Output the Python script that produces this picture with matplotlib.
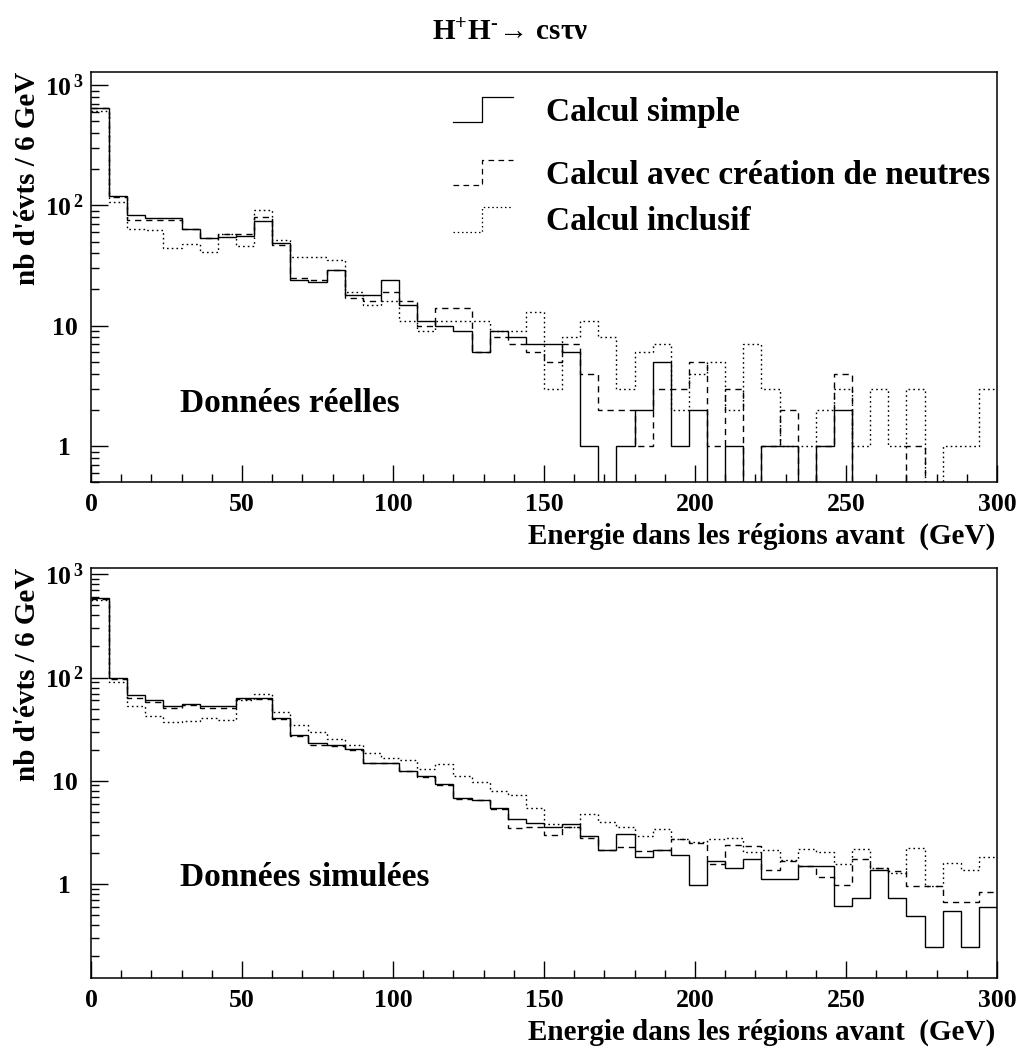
import numpy as np
import matplotlib
matplotlib.use("Agg")
import matplotlib.pyplot as plt
from matplotlib.ticker import MultipleLocator, LogLocator, NullFormatter, FixedLocator, FixedFormatter

plt.rcParams['font.family'] = ['Liberation Serif', 'DejaVu Serif']
plt.rcParams['font.weight'] = 'bold'
plt.rcParams['mathtext.fontset'] = 'custom'
plt.rcParams['mathtext.rm'] = 'Liberation Serif:bold'
plt.rcParams['mathtext.bf'] = 'Liberation Serif:bold'
plt.rcParams['mathtext.it'] = 'Liberation Serif:bold:italic'
plt.rcParams['mathtext.default'] = 'rm'

# ---------------- data ----------------
bin_edges = np.arange(0, 306, 6)  # 6 GeV bins, 0..300 GeV

title = r'$\mathrm{H^{+}H^{\text{-}}}\!\rightarrow\,\mathrm{cs\tau\nu}$'
series_labels = ["Calcul simple", "Calcul avec création de neutres", "Calcul inclusif"]
panel_labels = ["Données réelles", "Données simulées"]
x_label = "Energie dans les régions avant  (GeV)"
y_label = "nb d'évts / 6 GeV"
ytick_values = [1, 10, 100, 1000]
ytick_labels = ["1", "10", r"$10^{\,2}$", r"$10^{\,3}$"]

# Top panel: real data
real_simple = [650, 120, 83, 78, 78, 64, 54, 55, 56, 74,
               49, 24, 23, 29, 18, 18, 24, 15, 11, 10,
               9, 6, 9, 8, 7, 7, 6, 1, 0, 1,
               2, 5, 1, 2, 0, 1, 0, 1, 1, 0,
               1, 2, 0, 0, 0, 0, 0, 0, 0, 0]
real_neutres = [640, 118, 75, 75, 75, 64, 54, 58, 58, 80,
                47, 25, 24, 29, 17, 16, 19, 16, 10, 14,
                14, 6, 8, 7, 6, 5, 7, 4, 2, 2,
                1, 3, 3, 5, 1, 3, 0, 1, 2, 0,
                1, 4, 0, 0, 0, 1, 0, 0, 0, 0]
real_inclusif = [610, 107, 64, 62, 44, 48, 41, 58, 46, 91,
                 52, 37, 37, 35, 19, 15, 16, 11, 9, 11,
                 11, 11, 9, 9, 13, 3, 8, 11, 8, 3,
                 6, 7, 2, 4, 5, 2, 7, 3, 1, 1,
                 2, 3, 1, 3, 1, 3, 0, 1, 1, 3]

# Bottom panel: simulated data
sim_simple = [587, 98, 67, 60, 53, 55, 53.5, 53, 64, 63,
              41, 28, 23, 22, 20.5, 15, 15, 12.5, 11.1, 9.25,
              6.8, 6.5, 5.5, 4.3, 3.9, 3.6, 3.85, 2.9, 2.13, 3.07,
              1.81, 2.13, 1.9, 0.98, 1.68, 1.42, 1.75, 1.11, 1.11, 1.49,
              1.49, 0.61, 0.73, 1.37, 0.73, 0.49, 0.244, 0.55, 0.244, 0.60]
sim_neutres = [580, 96, 64, 58, 51, 54, 51, 51, 62, 62,
               40, 27, 22, 21.5, 20, 14.9, 14.9, 12.5, 10.9, 9.1,
               6.7, 6.5, 5.3, 3.5, 3.6, 3.0, 3.6, 2.77, 2.13, 2.28,
               2.07, 2.13, 2.7, 2.5, 1.57, 2.39, 2.33, 1.37, 1.68, 1.49,
               1.16, 0.98, 1.75, 1.42, 1.35, 0.96, 0.96, 0.67, 0.67, 0.84]
sim_inclusif = [561, 90.6, 52.7, 42.5, 36.9, 38.3, 40.6, 39.1, 60.7, 69.4,
                46.4, 34.7, 29.9, 25.6, 22.4, 18.6, 16.6, 16, 13.1, 14.5,
                11.1, 9.8, 7.9, 7.3, 5.45, 3.79, 3.6, 4.8, 4.0, 3.54,
                2.9, 3.39, 2.73, 2.57, 2.71, 2.81, 2.03, 2.13, 1.71, 2.18,
                2.06, 1.56, 2.17, 1.42, 1.27, 2.22, 0.96, 1.59, 1.37, 1.81]

# ---------------- layout ----------------
W, H = 1020, 1047
fig = plt.figure(figsize=(W / 100, H / 100), dpi=100)


def rect(l, t, r, b):
    return [l / W, 1 - b / H, (r - l) / W, (b - t) / H]


ax_top = fig.add_axes(rect(91, 71.7, 997, 482.3))
ax_bot = fig.add_axes(rect(91, 567.7, 997, 978.3))

styles = [dict(linestyle='-'),
          dict(linestyle=(0, (4.5, 3.5))),
          dict(linestyle=(0, (1.2, 2.2)))]
lw = 1.0


def setup(ax, ylim):
    ax.set_yscale('log', nonpositive='clip')
    ax.set_xlim(0, 300)
    ax.set_ylim(*ylim)
    for s in ax.spines.values():
        s.set_linewidth(1.1)
    ax.xaxis.set_major_locator(MultipleLocator(50))
    ax.xaxis.set_minor_locator(MultipleLocator(10))
    ax.yaxis.set_major_locator(FixedLocator(ytick_values))
    ax.yaxis.set_major_formatter(FixedFormatter(ytick_labels))
    ax.yaxis.set_minor_locator(LogLocator(base=10, subs=np.arange(2, 10)))
    ax.yaxis.set_minor_formatter(NullFormatter())
    ax.tick_params(which='both', direction='in', top=False, right=False, width=1.0)
    ax.tick_params(which='major', length=12, labelsize=18.5)
    ax.tick_params(which='minor', length=6)
    ax.tick_params(axis='x', which='major', pad=8)
    ax.tick_params(axis='y', which='major', pad=19)
    for t in ax.get_yticklabels():
        t.set_horizontalalignment('center')
    ax.text(-0.07, 1.0, y_label, rotation=90, ha='center', va='top',
            transform=ax.transAxes, fontsize=21, fontweight='bold')
    ax.text(0.9985, -(536 - 482.3) / 410.6, x_label, ha='right', va='center',
            transform=ax.transAxes, fontsize=21, fontweight='bold')


setup(ax_top, (0.5, 1290))
setup(ax_bot, (0.122, 1159))

for vals, st in zip([real_simple, real_neutres, real_inclusif], styles):
    ax_top.stairs(vals, bin_edges, baseline=None, color='black', lw=lw, **st)
for vals, st in zip([sim_simple, sim_neutres, sim_inclusif], styles):
    ax_bot.stairs(vals, bin_edges, baseline=None, color='black', lw=lw, **st)

# panel labels
ax_top.text((180 - 91) / 906, (482.3 - 403) / 410.6, panel_labels[0], ha='left', va='center',
            transform=ax_top.transAxes, fontsize=24, fontweight='bold')
ax_bot.text((180 - 91) / 906, (978.3 - 877) / 410.6, panel_labels[1], ha='left', va='center',
            transform=ax_bot.transAxes, fontsize=24, fontweight='bold')


# legend (ROOT style step symbols)
def ax_x(px):
    return (px - 91) / 906


def ax_y(py):
    return (482.3 - py) / 410.6


legend_centers = [112, 175, 222]
for lab, st, yc in zip(series_labels, styles, legend_centers):
    lo, hi = yc + 10, yc - 15
    ax_top.plot([ax_x(453), ax_x(482), ax_x(482), ax_x(513)],
                [ax_y(lo), ax_y(lo), ax_y(hi), ax_y(hi)],
                transform=ax_top.transAxes, color='black', lw=0.9, **st)
    ax_top.text(ax_x(546), ax_y(yc), lab, ha='left', va='center',
                transform=ax_top.transAxes, fontsize=24, fontweight='bold')

fig.text(0.5, 1 - 32 / H, title, ha='center', va='center', fontsize=21)

fig.savefig("out.png", dpi=100)
